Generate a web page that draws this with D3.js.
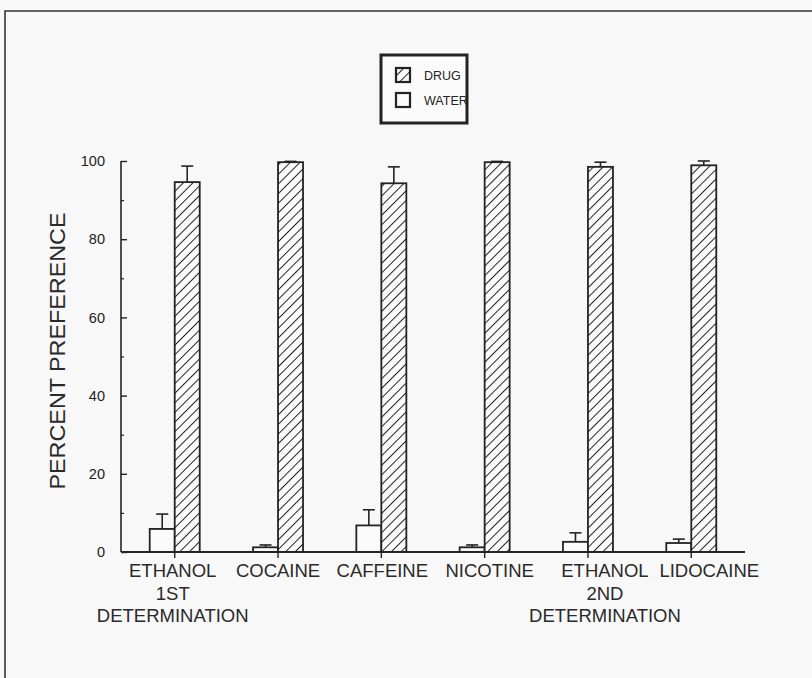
<!DOCTYPE html>
<html>
<head>
<meta charset="utf-8">
<script src="https://cdn.jsdelivr.net/npm/d3@7"></script>
<style>
  html, body { margin: 0; padding: 0; background: #f8f8f8; }
  svg { display: block; font-family: "Liberation Sans", Arial, Helvetica, sans-serif; }
</style>
</head>
<body>
<svg id="chart" width="812" height="678"></svg>
<script>
// Drug vs. water preference, percent of total intake
const categories = ["ETHANOL_1", "COCAINE", "CAFFEINE", "NICOTINE", "ETHANOL_2", "LIDOCAINE"];
const categoryLabels = [
  ["ETHANOL", "1ST", "DETERMINATION"],
  ["COCAINE"],
  ["CAFFEINE"],
  ["NICOTINE"],
  ["ETHANOL", "2ND", "DETERMINATION"],
  ["LIDOCAINE"]
];
const drugValues  = [94.6, 99.7, 94.3, 99.7, 98.5, 98.9];
const drugErrors  = [4.1, 0.2, 4.2, 0.2, 1.2, 1.1];
const waterValues = [5.9, 1.2, 6.8, 1.2, 2.6, 2.3];
const waterErrors = [3.8, 0.6, 4.0, 0.6, 2.3, 1.0];
const yTicks = [0, 20, 40, 60, 80, 100];
const yMinorTicks = [10, 30, 50, 70, 90];
const legendItems = ["DRUG", "WATER"];
const yTitle = "PERCENT PREFERENCE";

const ink = "#232323";
const svg = d3.select("#chart");

// hatch fill for drug bars
const defs = svg.append("defs");
defs.append("pattern")
  .attr("id", "hatch")
  .attr("patternUnits", "userSpaceOnUse")
  .attr("width", 6.8).attr("height", 6.8)
  .attr("patternTransform", "rotate(45)")
  .call(p => {
    p.append("rect").attr("width", 6.8).attr("height", 6.8).attr("fill", "#fbfbfb");
    p.append("line").attr("x1", 0).attr("y1", 0).attr("x2", 0).attr("y2", 6.8)
      .attr("stroke", ink).attr("stroke-width", 2);
  });

// page frame (open on right and bottom)
svg.append("path")
  .attr("d", "M5,678 L5,11 L812,11")
  .attr("fill", "none").attr("stroke", "#333").attr("stroke-width", 1.6);

const x = d3.scaleBand().domain(categories).range([121, 745]).paddingInner(0).paddingOuter(0.02);
const y = d3.scaleLinear().domain([0, 100]).range([552, 161]);
const barW = 25;
const center = c => x(c) + x.bandwidth() / 2;

// y axis: line with inward ticks
const yAxis = d3.axisRight(y).tickValues(yTicks).tickSize(6).tickFormat("");
const yg = svg.append("g").attr("transform", "translate(121,0)").call(yAxis);
yg.select(".domain").attr("stroke", ink).attr("stroke-width", 1.6).attr("d", `M0,${y(0)}V${y(100)}`);
yg.selectAll(".tick line").attr("stroke", ink).attr("stroke-width", 1.4);
const yMinor = d3.axisRight(y).tickValues(yMinorTicks).tickSize(3).tickFormat("");
const ymg = svg.append("g").attr("transform", "translate(121,0)").call(yMinor);
ymg.select(".domain").remove();
ymg.selectAll(".tick line").attr("stroke", ink).attr("stroke-width", 1.2);

// y tick labels
svg.append("g").selectAll("text").data(yTicks).join("text")
  .attr("x", 105).attr("y", d => y(d)).attr("dy", "0.36em")
  .attr("text-anchor", "end").attr("font-size", 14.5).attr("fill", ink)
  .text(d => d);

// y title
svg.append("text")
  .attr("transform", "translate(65,351) rotate(-90)")
  .attr("text-anchor", "middle").attr("font-size", 22.5).attr("fill", "#2a2a2a")
  .attr("textLength", 277).attr("lengthAdjust", "spacingAndGlyphs")
  .text(yTitle);

// water bars
svg.append("g").selectAll("rect").data(categories).join("rect")
  .attr("x", c => center(c) - barW).attr("width", barW)
  .attr("y", (c, i) => y(waterValues[i])).attr("height", (c, i) => y(0) - y(waterValues[i]))
  .attr("fill", "#fbfbfb").attr("stroke", ink).attr("stroke-width", 1.8);

// drug bars
svg.append("g").selectAll("rect").data(categories).join("rect")
  .attr("x", c => center(c)).attr("width", barW)
  .attr("y", (c, i) => y(drugValues[i])).attr("height", (c, i) => y(0) - y(drugValues[i]))
  .attr("fill", "url(#hatch)").attr("stroke", ink).attr("stroke-width", 1.8);

// error bars (upper only)
function errorBars(values, errors, offset) {
  const g = svg.append("g").attr("stroke", ink).attr("stroke-width", 1.6);
  categories.forEach((c, i) => {
    const cx = center(c) + offset;
    const top = y(values[i] + errors[i]);
    g.append("line").attr("x1", cx).attr("x2", cx).attr("y1", y(values[i])).attr("y2", top);
    g.append("line").attr("x1", cx - 6).attr("x2", cx + 6).attr("y1", top).attr("y2", top);
  });
}
errorBars(waterValues, waterErrors, -barW / 2);
errorBars(drugValues, drugErrors, barW / 2);

// x axis baseline and category ticks
const xAxis = d3.axisBottom(x).tickSize(6).tickFormat("");
const xg = svg.append("g").attr("transform", `translate(0,${y(0)})`).call(xAxis);
xg.select(".domain").attr("stroke", ink).attr("stroke-width", 1.8).attr("d", "M121,0H745");
xg.selectAll(".tick line").attr("stroke", ink).attr("stroke-width", 1.4);

// category labels
const labelNudge = [-2, 0, 1, 5, 17, 18];
const lg = svg.append("g").attr("font-size", 18.5).attr("fill", "#2a2a2a").attr("text-anchor", "middle");
categories.forEach((c, i) => {
  categoryLabels[i].forEach((line, k) => {
    lg.append("text")
      .attr("x", center(c) + labelNudge[i])
      .attr("y", 577 + k * 22.5)
      .text(line);
  });
});

// legend
const legend = svg.append("g");
legend.append("rect").attr("x", 381).attr("y", 55).attr("width", 86).attr("height", 68)
  .attr("fill", "#fbfbfb").attr("stroke", ink).attr("stroke-width", 3);
legendItems.forEach((name, i) => {
  const ly = 68 + i * 25;
  legend.append("rect").attr("x", 396).attr("y", ly).attr("width", 14).attr("height", 14)
    .attr("fill", i === 0 ? "url(#hatch)" : "#fbfbfb").attr("stroke", ink).attr("stroke-width", 2.2);
  legend.append("text").attr("x", 424).attr("y", ly + 11.5)
    .attr("font-size", 12.5).attr("fill", ink).text(name);
});
</script>
</body>
</html>
